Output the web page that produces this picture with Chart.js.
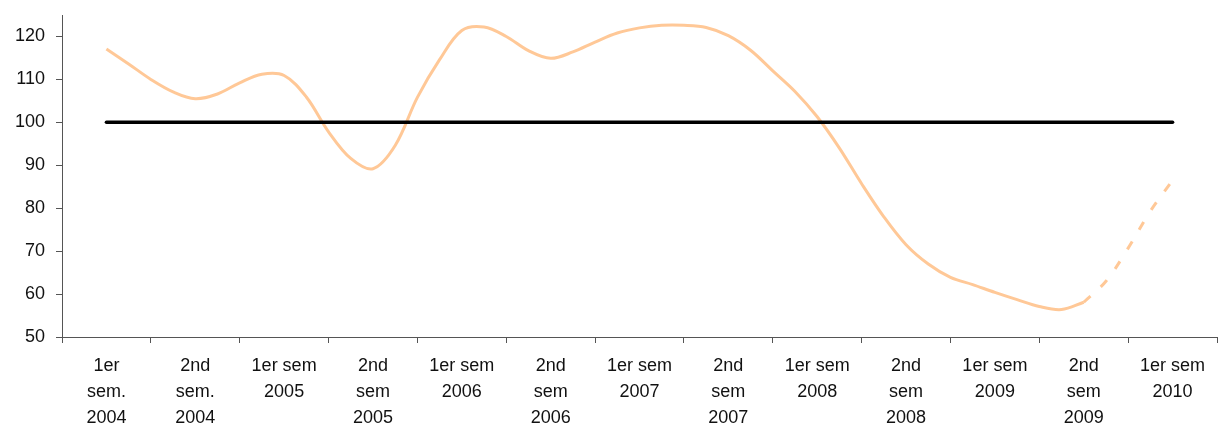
<!DOCTYPE html>
<html>
<head>
<meta charset="utf-8">
<script src="https://cdn.jsdelivr.net/npm/chart.js@4.4.1/dist/chart.umd.min.js"></script>
<style>
  html, body { margin: 0; padding: 0; background: #fff; }
  #wrap { width: 1218px; height: 427px; }
</style>
</head>
<body>
<div id="wrap"><canvas id="myChart" width="1218" height="427"></canvas></div>
<script>
'use strict';

// semester labels (multi-line as on the original)
let semesters = [
    ['1er', 'sem.', '2004'], ['2nd', 'sem.', '2004'], ['1er sem', '2005'], ['2nd', 'sem', '2005'],
    ['1er sem', '2006'], ['2nd', 'sem', '2006'], ['1er sem', '2007'], ['2nd', 'sem', '2007'],
    ['1er sem', '2008'], ['2nd', 'sem', '2008'], ['1er sem', '2009'], ['2nd', 'sem', '2009'],
    ['1er sem', '2010']
];

// index values, one every quarter of a semester, from 1er sem 2004 to 2nd sem 2009
let indexValues = [
    117.1, 113.6, 110.0, 107.1,
    105.5, 106.6, 109.2, 111.2,
    110.9, 105.9, 97.8, 91.6,
    89.2, 94.6, 105.8, 114.6,
    121.4, 122.2, 120.0, 116.7,
    114.9, 116.4, 118.7, 120.8,
    122.0, 122.6, 122.6, 122.1,
    120.2, 116.8, 112.0, 107.2,
    101.3, 94.0, 85.7, 78.0,
    71.5, 67.0, 63.9, 62.2,
    60.4, 58.7, 57.1, 56.4,
    58.1
];

// projection from 2nd sem 2009 to 1er sem 2010 (dotted)
let forecastValues = [58.1, 63.0, 70.7, 79.3, 86.5];
let forecastStart = 11;

let baseValue = 100;
let yTicks = [50, 60, 70, 80, 90, 100, 110, 120];

let step = 0.25;
let mainPoints = indexValues.map((v, i) => ({ x: i * step, y: v }));
let forecastPoints = forecastValues.map((v, i) => ({ x: forecastStart + i * step, y: v }));
let basePoints = [{ x: 0, y: baseValue }, { x: semesters.length - 1, y: baseValue }];

let axisColor = '#555';
let font = { family: 'Arial, "Liberation Sans", sans-serif', size: 18, lineHeight: 26 / 18 };

let ctx = document.getElementById('myChart').getContext('2d');
let myChart = new Chart(ctx, {
    type: 'line',
    data: {
        datasets: [{
            data: basePoints,
            xAxisID: 'xv',
            borderColor: '#000',
            borderWidth: 3.5,
            borderCapStyle: 'round',
            pointRadius: 0
        }, {
            data: mainPoints,
            xAxisID: 'xv',
            borderColor: '#ffc897',
            borderWidth: 3,
            tension: 0.35,
            pointRadius: 0
        }, {
            data: forecastPoints,
            xAxisID: 'xv',
            borderColor: '#ffc897',
            borderWidth: 3,
            borderDash: [9, 14],
            tension: 0.35,
            pointRadius: 0
        }]
    },
    options: {
        responsive: false,
        animation: false,
        layout: { padding: { top: 15, left: 12, right: 1, bottom: 0 } },
        plugins: {
            legend: { display: false },
            tooltip: { enabled: false }
        },
        scales: {
            x: {
                type: 'category',
                labels: semesters,
                offset: true,
                position: 'bottom',
                afterFit: function (scale) {
                    scale.height = 90;
                    scale.paddingLeft = 0;
                    scale.paddingRight = 0;
                },
                grid: {
                    offset: true,
                    drawOnChartArea: false,
                    tickLength: 6,
                    color: axisColor
                },
                border: { color: axisColor, width: 1 },
                ticks: {
                    color: '#111',
                    font: font,
                    padding: 10,
                    maxRotation: 0,
                    autoSkip: false
                }
            },
            xv: {
                type: 'linear',
                display: false,
                min: -0.5,
                max: semesters.length - 0.5
            },
            y: {
                min: 50,
                max: 125,
                afterBuildTicks: function (axis) {
                    axis.ticks = yTicks.map(v => ({ value: v }));
                },
                afterFit: function (scale) {
                    scale.width = 50;
                    scale.paddingTop = 0;
                    scale.paddingBottom = 0;
                },
                grid: {
                    drawOnChartArea: false,
                    tickLength: 6,
                    color: axisColor
                },
                border: { color: axisColor, width: 1 },
                ticks: {
                    color: '#111',
                    font: font,
                    padding: 11
                }
            }
        }
    }
});
</script>
</body>
</html>
